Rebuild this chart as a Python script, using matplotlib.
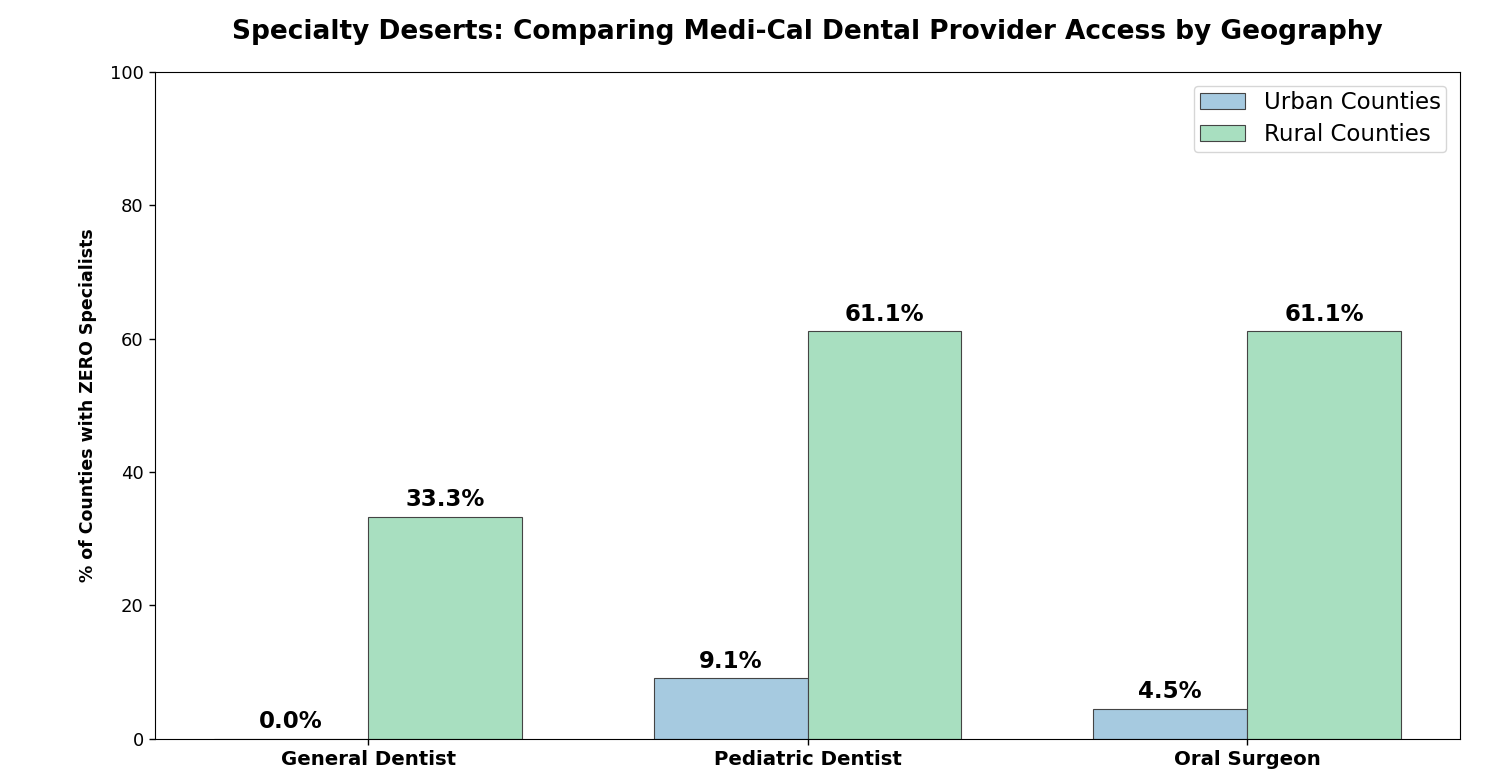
import matplotlib.pyplot as plt
import numpy as np

# dane
specjalnosci = ["General Dentist", "Pediatric Dentist", "Oral Surgeon"]
miejskie = [0.0, 9.1, 4.5]
wiejskie = [33.3, 61.1, 61.1]

x = np.arange(len(specjalnosci))
szer = 0.35

fig, ax = plt.subplots(figsize=(14.9, 7.72), dpi=100)

s1 = ax.bar(x - szer / 2, miejskie, szer, label="Urban Counties",
            color="#a6cae0", edgecolor="#444444", linewidth=0.8)
s2 = ax.bar(x + szer / 2, wiejskie, szer, label="Rural Counties",
            color="#a8dfc0", edgecolor="#444444", linewidth=0.8)

for slupki in (s1, s2):
    for b in slupki:
        h = b.get_height()
        ax.annotate(f"{h:.1f}%", (b.get_x() + b.get_width() / 2, h),
                    xytext=(0, 4), textcoords="offset points",
                    ha="center", va="bottom", fontsize=16.5, fontweight="bold")

ax.set_title("Specialty Deserts: Comparing Medi-Cal Dental Provider Access by Geography",
             fontsize=19, fontweight="bold", pad=23.5)
ax.set_ylabel("% of Counties with ZERO Specialists", fontsize=12.5,
              fontweight="bold", labelpad=9)
ax.set_xticks(x)
ax.set_xticklabels(specjalnosci, fontsize=14.2, fontweight="bold")
ax.tick_params(axis="both", labelsize=13, length=4.5, width=1)
for t in ax.get_xticklabels():
    t.set_fontsize(14.2)
ax.set_ylim(0, 100)
ax.legend(fontsize=16.5, labelspacing=0.4, borderpad=0.25, borderaxespad=0.6)

plt.subplots_adjust(left=0.104, right=0.98, top=0.907, bottom=0.043)
plt.savefig("out.png")
